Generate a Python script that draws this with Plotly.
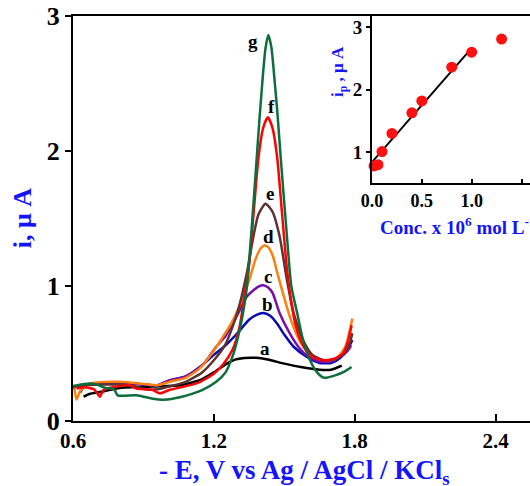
import plotly.graph_objects as go

# ---------------- data ----------------
V_a = [0.645, 0.67, 0.715, 0.80, 0.94, 1.06, 1.15, 1.20, 1.25, 1.29, 1.33, 1.38, 1.43, 1.50, 1.57, 1.65, 1.70, 1.745]
I_a = [0.18, 0.20, 0.215, 0.245, 0.255, 0.265, 0.31, 0.36, 0.42, 0.455, 0.467, 0.468, 0.455, 0.425, 0.40, 0.38, 0.38, 0.41]

V_b = [0.63, 0.65, 0.70, 0.80, 0.90, 0.96, 1.01, 1.08, 1.14, 1.20, 1.25, 1.30, 1.35, 1.38, 1.41, 1.44, 1.47, 1.50, 1.54, 1.60, 1.65, 1.70, 1.74, 1.77, 1.79]
I_b = [0.21, 0.26, 0.28, 0.285, 0.27, 0.265, 0.30, 0.33, 0.40, 0.49, 0.56, 0.65, 0.75, 0.785, 0.80, 0.78, 0.72, 0.64, 0.55, 0.47, 0.43, 0.43, 0.47, 0.53, 0.60]

V_c = [0.62, 0.70, 0.80, 0.90, 0.96, 1.01, 1.08, 1.15, 1.21, 1.25, 1.28, 1.31, 1.34, 1.37, 1.39, 1.41, 1.43, 1.45, 1.48, 1.52, 1.56, 1.60, 1.65, 1.70, 1.74, 1.77, 1.785]
I_c = [0.26, 0.28, 0.285, 0.27, 0.265, 0.30, 0.33, 0.41, 0.55, 0.63, 0.72, 0.82, 0.92, 0.97, 0.995, 1.005, 0.99, 0.95, 0.80, 0.66, 0.55, 0.48, 0.44, 0.44, 0.48, 0.52, 0.56]

V_d = [0.605, 0.615, 0.63, 0.66, 0.70, 0.80, 0.90, 0.96, 1.01, 1.08, 1.14, 1.20, 1.23, 1.28, 1.32, 1.35, 1.38, 1.40, 1.415, 1.43, 1.45, 1.47, 1.50, 1.53, 1.57, 1.61, 1.67, 1.72, 1.76, 1.78, 1.79]
I_d = [0.25, 0.16, 0.22, 0.27, 0.285, 0.29, 0.275, 0.265, 0.29, 0.32, 0.39, 0.52, 0.60, 0.74, 0.90, 1.04, 1.21, 1.28, 1.30, 1.29, 1.23, 1.10, 0.91, 0.74, 0.58, 0.49, 0.45, 0.46, 0.55, 0.68, 0.76]

V_e = [0.60, 0.65, 0.72, 0.80, 0.86, 0.91, 0.96, 1.01, 1.08, 1.15, 1.20, 1.25, 1.30, 1.34, 1.37, 1.39, 1.42, 1.45, 1.48, 1.51, 1.54, 1.58, 1.62, 1.67, 1.72, 1.76, 1.78, 1.79]
I_e = [0.25, 0.265, 0.27, 0.27, 0.26, 0.235, 0.235, 0.255, 0.29, 0.36, 0.45, 0.57, 0.80, 1.09, 1.38, 1.53, 1.61, 1.55, 1.37, 1.06, 0.80, 0.60, 0.49, 0.45, 0.46, 0.51, 0.58, 0.65]

V_f = [0.615, 0.65, 0.69, 0.705, 0.715, 0.73, 0.77, 0.84, 0.87, 0.94, 0.97, 1.01, 1.06, 1.13, 1.20, 1.24, 1.28, 1.31, 1.33, 1.35, 1.37, 1.39, 1.41, 1.43, 1.45, 1.47, 1.49, 1.51, 1.53, 1.55, 1.58, 1.61, 1.64, 1.67, 1.71, 1.75, 1.77, 1.787]
I_f = [0.24, 0.25, 0.235, 0.20, 0.18, 0.23, 0.25, 0.265, 0.24, 0.23, 0.205, 0.23, 0.25, 0.28, 0.35, 0.42, 0.53, 0.70, 0.92, 1.15, 1.55, 1.95, 2.17, 2.25, 2.17, 1.95, 1.55, 1.15, 0.88, 0.70, 0.56, 0.49, 0.46, 0.45, 0.46, 0.50, 0.58, 0.71]

V_g = [0.60, 0.65, 0.69, 0.74, 0.775, 0.79, 0.87, 0.94, 0.985, 1.06, 1.15, 1.21, 1.25, 1.28, 1.30, 1.32, 1.34, 1.36, 1.38, 1.395, 1.41, 1.42, 1.432, 1.445, 1.46, 1.47, 1.485, 1.51, 1.53, 1.555, 1.58, 1.61, 1.64, 1.67, 1.72, 1.76, 1.787]
I_g = [0.26, 0.275, 0.275, 0.245, 0.235, 0.19, 0.19, 0.165, 0.158, 0.178, 0.228, 0.29, 0.36, 0.48, 0.60, 0.76, 0.98, 1.40, 1.88, 2.25, 2.58, 2.76, 2.86, 2.77, 2.50, 2.30, 1.95, 1.40, 1.00, 0.80, 0.60, 0.45, 0.36, 0.32, 0.34, 0.37, 0.40]

curve_labels = ["a", "b", "c", "d", "e", "f", "g"]
label_V = [1.418, 1.43, 1.43, 1.433, 1.44, 1.445, 1.368]
label_I = [0.54, 0.865, 1.067, 1.364, 1.686, 2.33, 2.81]

# inset: calibration
conc = [0.02, 0.06, 0.1, 0.2, 0.4, 0.5, 0.8, 1.0, 1.3]
ip = [0.78, 0.80, 1.01, 1.30, 1.63, 1.82, 2.36, 2.60, 2.81]
fit_x = [0.0, 0.98]
fit_y = [0.84, 2.63]

colors = ["#000000", "#0a0ab4", "#7a0fa8", "#ff7f0e", "#5c3232", "#ff0000", "#0b6e3c"]
series = [(V_a, I_a), (V_b, I_b), (V_c, I_c), (V_d, I_d), (V_e, I_e), (V_f, I_f), (V_g, I_g)]

SERIF = "Liberation Serif"
BLUE = "#1414ff"

fig = go.Figure()
for (vx, iy), col in zip(series, colors):
    fig.add_trace(go.Scatter(x=vx, y=iy, mode="lines",
                             line=dict(color=col, width=2.5, shape="spline", smoothing=0.6),
                             xaxis="x", yaxis="y", showlegend=False, hoverinfo="skip"))

fig.add_trace(go.Scatter(x=fit_x, y=fit_y, mode="lines", line=dict(color="black", width=2),
                         xaxis="x2", yaxis="y2", showlegend=False))
fig.add_trace(go.Scatter(x=conc, y=ip, mode="markers",
                         marker=dict(color="#ff1010", size=11),
                         xaxis="x2", yaxis="y2", showlegend=False, cliponaxis=False))

W, H = 530, 486
L, R, T, B = 73, 0, 16, 65.3
pw, ph = W - L - R, H - T - B

def px_x(p):
    return (p - L) / pw

def px_y(p):
    return (H - B - p) / ph

annotations = []
for lab, lx, ly in zip(curve_labels, label_V, label_I):
    annotations.append(dict(x=lx, y=ly, xref="x", yref="y", text=lab, showarrow=False,
                            xanchor="center", yanchor="middle",
                            font=dict(family=SERIF, size=19, color="black", weight="bold")))

annotations.append(dict(x=px_x(22), y=px_y(218), xref="paper", yref="paper", text="i, \u03bc A",
                        textangle=-90, showarrow=False, xanchor="center", yanchor="middle",
                        font=dict(family=SERIF, size=26, color=BLUE, weight="bold")))
annotations.append(dict(x=px_x(304), y=px_y(472), xref="paper", yref="paper",
                        text="- E, V vs Ag / AgCl / KCl<sub>s</sub>", showarrow=False,
                        xanchor="center", yanchor="middle",
                        font=dict(family=SERIF, size=27, color=BLUE, weight="bold")))
annotations.append(dict(x=px_x(339), y=px_y(72), xref="paper", yref="paper",
                        text="i<sub>p</sub> , \u03bc A", textangle=-90, showarrow=False,
                        xanchor="center", yanchor="middle",
                        font=dict(family=SERIF, size=17, color=BLUE, weight="bold")))
annotations.append(dict(x=px_x(378), y=px_y(226), xref="paper", yref="paper", xanchor="left",
                        yanchor="middle",
                        text="Conc. x 10<sup>6</sup> mol L<sup>-1</sup>", showarrow=False,
                        font=dict(family=SERIF, size=19, color=BLUE, weight="bold")))

fig.update_layout(
    width=W, height=H,
    margin=dict(l=L, r=R, t=T, b=B, pad=0),
    paper_bgcolor="white", plot_bgcolor="rgba(0,0,0,0)",
    showlegend=False,
    xaxis=dict(domain=[0, 1], range=[0.6, 2.547], tickvals=[0.6, 1.2, 1.8, 2.4],
               ticktext=["0.6", "1.2", "1.8", "2.4"],
               ticks="inside", ticklen=7, tickwidth=2, tickcolor="black",
               showline=True, linecolor="black", linewidth=2, mirror=True,
               showgrid=False, zeroline=False, anchor="y",
               tickfont=dict(family=SERIF, size=21, color="black", weight="bold")),
    yaxis=dict(domain=[0, 1], range=[0, 3], tickvals=[0, 1, 2, 3],
               ticks="outside", ticklen=6, tickwidth=2, tickcolor="black",
               showline=True, linecolor="black", linewidth=2, mirror=False,
               showgrid=False, zeroline=False, anchor="x",
               tickfont=dict(family=SERIF, size=26, color="black", weight="bold")),
    xaxis2=dict(domain=[px_x(372), 1], range=[0, 1.585], tickvals=[0, 0.5, 1.0, 1.5],
                ticktext=["0.0", "0.5", "1.0", "1.5"],
                ticks="inside", ticklen=4, tickwidth=1.5, tickcolor="black",
                showline=True, linecolor="black", linewidth=2, mirror=True,
                showgrid=False, zeroline=False, anchor="y2",
                tickfont=dict(family=SERIF, size=18, color="black", weight="bold")),
    yaxis2=dict(domain=[px_y(183.3), 1], range=[0.5, 3.18], tickvals=[1, 2, 3],
                ticks="outside", ticklen=4, tickwidth=1.5, tickcolor="black",
                showline=True, linecolor="black", linewidth=2, mirror=False,
                showgrid=False, zeroline=False, anchor="x2",
                tickfont=dict(family=SERIF, size=19, color="black", weight="bold")),
    annotations=annotations,
)

fig.write_html("out.html")
